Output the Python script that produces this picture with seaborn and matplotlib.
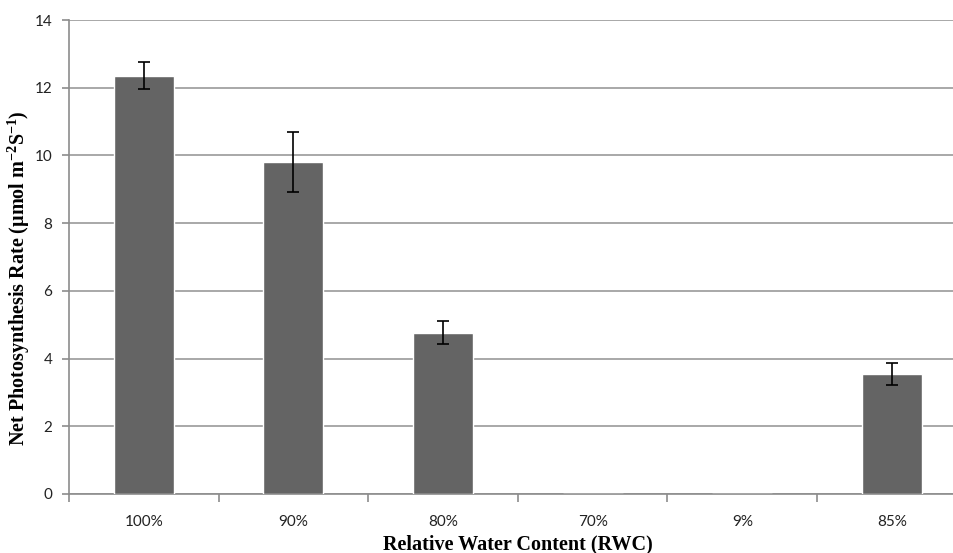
import matplotlib
matplotlib.use("Agg")
import matplotlib.pyplot as plt
import seaborn as sns
import numpy as np
import pandas as pd

categories = ["100%", "90%", "80%", "70%", "9%", "85%"]
rates = [12.35, 9.8, 4.77, 0.0, 0.0, 3.55]
errors = [0.40, 0.88, 0.33, 0.0, 0.0, 0.33]
yticks = [0, 2, 4, 6, 8, 10, 12, 14]

sns.set_theme(style="white")
plt.rcParams["font.family"] = ["Lato", "DejaVu Sans"]
plt.rcParams["mathtext.fontset"] = "custom"
plt.rcParams["mathtext.rm"] = "Liberation Serif:bold"
plt.rcParams["mathtext.it"] = "Liberation Serif:bold"
plt.rcParams["mathtext.bf"] = "Liberation Serif:bold"

df = pd.DataFrame({"RWC": categories, "rate": rates})

fig = plt.figure(figsize=(9.54, 5.53), dpi=100)
ax = fig.add_axes([0.0723, 0.1067, 0.941, 0.857])

sns.barplot(data=df, x="RWC", y="rate", order=categories, color="#646464",
            saturation=1, width=0.4, ax=ax, errorbar=None, zorder=3)
ax.errorbar(np.arange(len(categories))[[0, 1, 2, 5]],
            np.array(rates)[[0, 1, 2, 5]],
            yerr=np.array(errors)[[0, 1, 2, 5]],
            fmt="none", ecolor="black", elinewidth=1.2, capsize=4, capthick=1.2, zorder=4)

ax.set_xlim(-0.5, len(categories) - 0.5)
ax.set_ylim(0, 14)
ax.set_yticks(yticks)
ax.yaxis.grid(True, color="#999999", linewidth=1.2, zorder=0)
ax.set_axisbelow(True)

for s in ["top", "right"]:
    ax.spines[s].set_visible(False)
for s in ["left", "bottom"]:
    ax.spines[s].set_color("#8c8c8c")
    ax.spines[s].set_linewidth(1.2)

ax.set_xticks(np.arange(len(categories)))
ax.set_xticklabels(categories)
ax.set_xticks(np.arange(len(categories) + 1) - 0.5, minor=True)
ax.tick_params(axis="x", which="major", length=0, pad=15, labelsize=11, labelcolor="#222222")
ax.tick_params(axis="x", which="minor", length=6, width=1.2, color="#8c8c8c", direction="out", bottom=True)
ax.tick_params(axis="y", which="major", length=5, width=1.2, color="#8c8c8c", direction="out",
               left=True, labelsize=11, labelcolor="#222222", pad=7)

ax.set_xlabel("Relative Water Content (RWC)", family="Liberation Serif", fontweight="bold",
              fontsize=14.5, color="black", labelpad=4)
ax.set_ylabel(r"Net Photosynthesis Rate (μmol m$^{-2}$S$^{-1}$)", family="Liberation Serif",
              fontweight="bold", fontsize=14.5, color="black")
ax.yaxis.set_label_coords(-0.041, 0.456)

fig.savefig("out.png", dpi=100)
